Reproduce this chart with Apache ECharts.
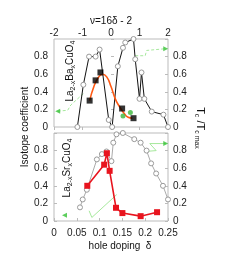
<!DOCTYPE html>
<html><head><meta charset="utf-8">
<script src="https://cdn.jsdelivr.net/npm/echarts@6/dist/echarts.min.js"></script>
<style>html,body{margin:0;padding:0;background:#fff}#c{width:246px;height:254px}</style>
</head><body><div id="c"></div>
<script>
// ---- Top panel (La2-xBaxCuO4), x = nu = 16*delta - 2 ----
var nuTc   = [-1.18,-0.97,-0.77,-0.54,-0.40,-0.08,0.04,0.24,0.42,0.50,0.79,0.85,1.00,1.07,1.17,1.43,1.84,2.00];
var tcTop  = [0,0.48,0.80,0.80,0.88,0.08,0,0.69,0.90,0.96,1.00,0.77,0.32,0.62,0.32,0.175,0.14,0];
var nuFit  = [-0.75,-0.6,-0.45,-0.3,-0.15,0,0.15,0.3,0.45,0.6,0.75];
var alphaFit = [0.30,0.46,0.56,0.60,0.57,0.46,0.32,0.23,0.16,0.11,0.10];
var nuSq   = [-0.75,-0.54,-0.37,0.39,0.79];
var alphaSq = [0.30,0.53,0.62,0.21,0.10];
var nuGreenDot = [0.42,0.68];
var alphaGreenDot = [0.125,0.165];
var nuGreenL = [-1.87,-1.52,-1.41,-1.35,-0.95];
var valGreenL = [0.18,0.19,0.25,0.23,0.385];
var nuGreenR = [0.85,1.20,1.25,1.30,1.92];
var valGreenR = [0.81,0.81,0.87,0.86,0.89];
// ---- Bottom panel (La2-xSrxCuO4), x = delta ----
var dTc    = [0.057,0.063,0.072,0.094,0.105,0.115,0.126,0.13,0.137,0.151,0.176,0.19,0.203,0.213,0.224,0.239,0.25];
var tcBot  = [0.155,0.245,0.355,0.70,0.76,0.79,0.68,0.89,0.985,1.0,0.93,0.89,0.80,0.655,0.54,0.40,0.245];
var dAlpha = [0.073,0.110,0.116,0.122,0.136,0.150,0.190,0.226];
var alphaBot = [0.40,0.64,0.77,0.57,0.15,0.09,0.055,0.10];
var dGreenL = [0.077,0.083,0.1375];
var valGreenLB = [0.116,0.04,0.30];
var dGreenR = [0.20,0.224,0.21,0.245];
var valGreenRB = [0.79,0.80,0.88,0.88];
var arrowLB = [0.023,0.066];

function zip(a,b){return a.map(function(v,i){return [v,b[i]];});}
var FONT='Liberation Sans';
var txt={fontFamily:FONT,fontSize:10,color:'#222'};
var GREEN='#a6e89c', GREENA='#34c234';

function yAx(g,pos){return {gridIndex:g,type:'value',position:pos,min:0,max:1,interval:0.2,
  axisLine:{show:false},splitLine:{show:false},
  axisTick:{show:true,inside:true,length:3,lineStyle:{color:'#bbb'}},
  axisLabel:Object.assign({margin:pos==='left'?6:5,formatter:function(v){return v>=0.999?'':(+v.toFixed(2)).toString();}},txt)};}

var chart=echarts.init(document.getElementById('c'),null,{renderer:'canvas'});
chart.setOption({
  animation:false,
  grid:[{left:54,top:39,width:114,height:88,show:true,borderColor:'#bbb',borderWidth:1},
        {left:54,top:133,width:114,height:88,show:true,borderColor:'#bbb',borderWidth:1}],
  xAxis:[{gridIndex:0,type:'value',position:'top',min:-2,max:2,interval:1,
          axisLine:{show:false},splitLine:{show:false},
          axisTick:{show:true,inside:true,length:3,lineStyle:{color:'#bbb'}},
          axisLabel:Object.assign({margin:1},txt)},
         {gridIndex:1,type:'value',position:'bottom',min:0,max:0.25,interval:0.05,
          axisLine:{show:false},splitLine:{show:false},
          axisTick:{show:true,inside:true,length:3,lineStyle:{color:'#bbb'}},
          axisLabel:Object.assign({margin:7},txt)}],
  yAxis:[yAx(0,'left'),yAx(0,'right'),yAx(1,'left'),yAx(1,'right')],
  series:[
    {type:'line',xAxisIndex:0,yAxisIndex:0,data:zip(nuGreenL,valGreenL),symbol:'none',lineStyle:{color:GREEN,width:1,type:[3,2]},z:1},
    {type:'line',xAxisIndex:0,yAxisIndex:0,data:zip(nuGreenR,valGreenR),symbol:'none',lineStyle:{color:GREEN,width:1,type:[3,2]},z:1},
    {type:'scatter',xAxisIndex:0,yAxisIndex:0,data:[[nuGreenL[0],valGreenL[0]]],symbol:'triangle',symbolSize:5,symbolRotate:90,itemStyle:{color:GREENA},z:2},
    {type:'scatter',xAxisIndex:0,yAxisIndex:0,data:[[nuGreenR[nuGreenR.length-1],valGreenR[valGreenR.length-1]]],symbol:'triangle',symbolSize:5,symbolRotate:-90,itemStyle:{color:GREENA},z:2},
    {type:'line',xAxisIndex:0,yAxisIndex:1,data:zip(nuTc,tcTop),symbol:'circle',symbolSize:5,
     lineStyle:{color:'#111',width:1},itemStyle:{color:'#fff',borderColor:'#999',borderWidth:1},z:3},
    {type:'line',xAxisIndex:0,yAxisIndex:0,data:zip(nuFit,alphaFit),smooth:true,symbol:'none',lineStyle:{color:'#ff5a14',width:1.6},z:4},
    {type:'scatter',xAxisIndex:0,yAxisIndex:0,data:zip(nuSq,alphaSq),symbol:'rect',symbolSize:6,itemStyle:{color:'#000'},z:5},
    {type:'scatter',xAxisIndex:0,yAxisIndex:0,data:zip(nuGreenDot,alphaGreenDot),symbol:'circle',symbolSize:5,itemStyle:{color:'#3cb83c'},z:5},

    {type:'line',xAxisIndex:1,yAxisIndex:2,data:zip(dGreenL,valGreenLB),symbol:'none',lineStyle:{color:GREEN,width:1},z:1},
    {type:'line',xAxisIndex:1,yAxisIndex:2,data:zip(dGreenR,valGreenRB),symbol:'none',lineStyle:{color:GREEN,width:1},z:1},
    {type:'scatter',xAxisIndex:1,yAxisIndex:2,data:[arrowLB],symbol:'triangle',symbolSize:5,symbolRotate:90,itemStyle:{color:GREENA},z:2},
    {type:'scatter',xAxisIndex:1,yAxisIndex:2,data:[[dGreenR[dGreenR.length-1],valGreenRB[valGreenRB.length-1]]],symbol:'triangle',symbolSize:5,symbolRotate:-90,itemStyle:{color:GREENA},z:2},
    {type:'line',xAxisIndex:1,yAxisIndex:3,data:zip(dTc,tcBot),symbol:'circle',symbolSize:5,
     lineStyle:{color:'#aaa',width:1},itemStyle:{color:'#fff',borderColor:'#999',borderWidth:1},z:3},
    {type:'line',xAxisIndex:1,yAxisIndex:2,data:zip(dAlpha,alphaBot),symbol:'rect',symbolSize:6,
     lineStyle:{color:'#e8141e',width:1.6},itemStyle:{color:'#e8141e'},z:5}
  ],
  graphic:[
    {type:'text',x:25,y:127,rotation:Math.PI/2,style:{text:'Isotope coefficient',fontFamily:FONT,fontSize:10,fill:'#111',align:'center',verticalAlign:'middle'}},
    {type:'text',x:200,y:128,rotation:-Math.PI/2,style:{text:'T{s|c} /T{s|c max}',fontFamily:FONT,fontSize:11,fill:'#111',align:'center',verticalAlign:'middle',rich:{s:{fontSize:7,fontFamily:FONT,padding:[6,0,0,0]}}}},
    {type:'text',x:111,y:21,style:{text:'ν=16δ - 2',fontFamily:FONT,fontSize:10,fill:'#111',align:'center',verticalAlign:'middle'}},
    {type:'text',x:120,y:246,style:{text:'hole doping  δ',fontFamily:FONT,fontSize:10,fill:'#111',align:'center',verticalAlign:'middle'}},
    {type:'text',x:70,y:71,rotation:Math.PI/2,style:{text:'La{s|2-x}Ba{s|x}CuO{s|4}',fontFamily:FONT,fontSize:10,fill:'#111',align:'center',verticalAlign:'middle',rich:{s:{fontSize:7,fontFamily:FONT,padding:[6,0,0,0]}}}},
    {type:'text',x:67,y:168,rotation:Math.PI/2,style:{text:'La{s|2-x}Sr{s|x}CuO{s|4}',fontFamily:FONT,fontSize:10,fill:'#111',align:'center',verticalAlign:'middle',rich:{s:{fontSize:7,fontFamily:FONT,padding:[6,0,0,0]}}}}
  ]
});
</script></body></html>
